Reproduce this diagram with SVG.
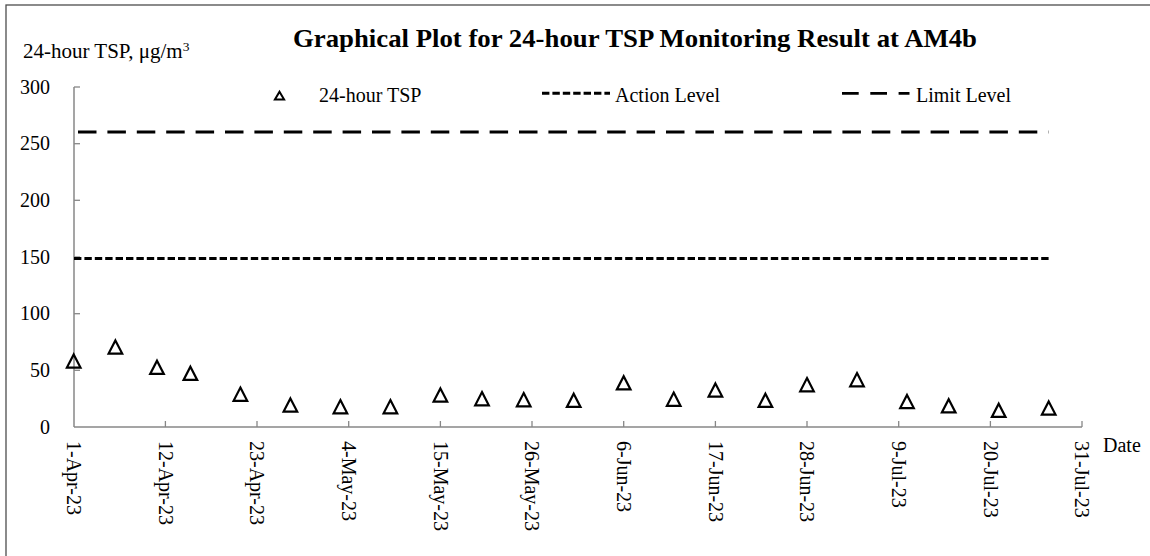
<svg xmlns="http://www.w3.org/2000/svg" xmlns:xlink="http://www.w3.org/1999/xlink" width="1150" height="556" viewBox="0 0 1150 556">
<style>
  text { font-family: "Liberation Serif", "Times New Roman", serif; fill: #000; }
  .lbl { font-size: 20px; }
  .ylbl { font-size: 20px; text-anchor: end; }
  .title { font-size: 25px; font-weight: bold; }
  .axis { stroke: #878787; stroke-width: 1.5; fill: none; }
  .tick { stroke: #878787; stroke-width: 1.3; }
  .mk { fill: none; stroke: #000; stroke-width: 2.2; stroke-linejoin: miter; }
  .limit { stroke: #000; stroke-width: 2.8; stroke-dasharray: 18.5 10.9; fill: none; }
  .action { stroke: #000; stroke-width: 3; stroke-dasharray: 7.4 3; fill: none; }
</style>
<defs>
  <path id="tri" d="M0,-6.6 L6.8,6.6 L-6.8,6.6 Z"/>
  <path id="tris" d="M0,-4.2 L4.6,3.6 L-4.6,3.6 Z"/>
</defs>
<rect x="0" y="0" width="1150" height="556" fill="#fff"/>
<rect id="frame" x="6" y="5" width="1160" height="570" fill="none" stroke="#4d4d4d" stroke-width="1.3"/>

<g id="title">
  <text class="title" x="293" y="47" textLength="684" lengthAdjust="spacingAndGlyphs">Graphical Plot for 24-hour TSP Monitoring Result at AM4b</text>
</g>
<g id="ytitle">
  <text x="23" y="58" style="font-size:21px">24-hour TSP, μg/m<tspan font-size="13.5" dy="-7.5">3</tspan></text>
</g>

<g id="axes">
  <line class="axis" x1="74" y1="87" x2="74" y2="427"/>
  <line class="axis" x1="74" y1="427" x2="1082" y2="427"/>
  <g id="yticks">
    <line class="tick" x1="74" y1="87" x2="80" y2="87"/>
    <line class="tick" x1="74" y1="143.7" x2="80" y2="143.7"/>
    <line class="tick" x1="74" y1="200.3" x2="80" y2="200.3"/>
    <line class="tick" x1="74" y1="257" x2="80" y2="257"/>
    <line class="tick" x1="74" y1="313.7" x2="80" y2="313.7"/>
    <line class="tick" x1="74" y1="370.3" x2="80" y2="370.3"/>
  </g>
  <g id="xticks">
    <line class="tick" x1="165.4" y1="427" x2="165.4" y2="421"/>
    <line class="tick" x1="257" y1="427" x2="257" y2="421"/>
    <line class="tick" x1="348.7" y1="427" x2="348.7" y2="421"/>
    <line class="tick" x1="440.4" y1="427" x2="440.4" y2="421"/>
    <line class="tick" x1="532" y1="427" x2="532" y2="421"/>
    <line class="tick" x1="623.7" y1="427" x2="623.7" y2="421"/>
    <line class="tick" x1="715.4" y1="427" x2="715.4" y2="421"/>
    <line class="tick" x1="807" y1="427" x2="807" y2="421"/>
    <line class="tick" x1="898.7" y1="427" x2="898.7" y2="421"/>
    <line class="tick" x1="990.4" y1="427" x2="990.4" y2="421"/>
    <line class="tick" x1="1082" y1="427" x2="1082" y2="421"/>
  </g>
  <g id="ylabels">
    <text class="ylbl" x="50" y="93.5">300</text>
    <text class="ylbl" x="50" y="150.2">250</text>
    <text class="ylbl" x="50" y="206.8">200</text>
    <text class="ylbl" x="50" y="263.5">150</text>
    <text class="ylbl" x="50" y="320.2">100</text>
    <text class="ylbl" x="50" y="376.8">50</text>
    <text class="ylbl" x="50" y="433.5">0</text>
  </g>
  <g id="xlabels" class="lbl">
    <text transform="translate(73.7,441) rotate(90)" dy="0.34em">1-Apr-23</text>
    <text transform="translate(165.4,441) rotate(90)" dy="0.34em">12-Apr-23</text>
    <text transform="translate(257,441) rotate(90)" dy="0.34em">23-Apr-23</text>
    <text transform="translate(348.7,441) rotate(90)" dy="0.34em">4-May-23</text>
    <text transform="translate(440.4,441) rotate(90)" dy="0.34em">15-May-23</text>
    <text transform="translate(532,441) rotate(90)" dy="0.34em">26-May-23</text>
    <text transform="translate(623.7,441) rotate(90)" dy="0.34em">6-Jun-23</text>
    <text transform="translate(715.4,441) rotate(90)" dy="0.34em">17-Jun-23</text>
    <text transform="translate(807,441) rotate(90)" dy="0.34em">28-Jun-23</text>
    <text transform="translate(898.7,441) rotate(90)" dy="0.34em">9-Jul-23</text>
    <text transform="translate(990.4,441) rotate(90)" dy="0.34em">20-Jul-23</text>
    <text transform="translate(1082,441) rotate(90)" dy="0.34em">31-Jul-23</text>
  </g>
  <text class="lbl" x="1103" y="452">Date</text>
</g>

<g id="levels">
  <line id="limit-line" class="limit" x1="78" y1="132" x2="1048.5" y2="132"/>
  <line id="action-line" class="action" x1="74" y1="258.5" x2="1049" y2="258.5"/>
</g>

<g id="series">
  <use xlink:href="#tri" class="mk" x="73.7" y="361"/>
  <use xlink:href="#tri" class="mk" x="115.4" y="347"/>
  <use xlink:href="#tri" class="mk" x="157" y="367.3"/>
  <use xlink:href="#tri" class="mk" x="190.4" y="373.3"/>
  <use xlink:href="#tri" class="mk" x="240.4" y="394.2"/>
  <use xlink:href="#tri" class="mk" x="290.4" y="405"/>
  <use xlink:href="#tri" class="mk" x="340.4" y="406.7"/>
  <use xlink:href="#tri" class="mk" x="390.4" y="406.7"/>
  <use xlink:href="#tri" class="mk" x="440.4" y="395"/>
  <use xlink:href="#tri" class="mk" x="482" y="398.7"/>
  <use xlink:href="#tri" class="mk" x="523.7" y="399.7"/>
  <use xlink:href="#tri" class="mk" x="573.7" y="400.3"/>
  <use xlink:href="#tri" class="mk" x="623.7" y="382.8"/>
  <use xlink:href="#tri" class="mk" x="673.7" y="399.2"/>
  <use xlink:href="#tri" class="mk" x="715.4" y="390"/>
  <use xlink:href="#tri" class="mk" x="765.4" y="400.3"/>
  <use xlink:href="#tri" class="mk" x="807" y="384.7"/>
  <use xlink:href="#tri" class="mk" x="857" y="379.7"/>
  <use xlink:href="#tri" class="mk" x="907" y="401.5"/>
  <use xlink:href="#tri" class="mk" x="948.7" y="405.8"/>
  <use xlink:href="#tri" class="mk" x="998.7" y="410.3"/>
  <use xlink:href="#tri" class="mk" x="1048.7" y="408"/>
</g>

<g id="legend">
  <g id="legend-tsp">
    <use xlink:href="#tris" class="mk" x="279.5" y="96" style="stroke-width:2"/>
    <text class="lbl" x="319" y="102">24-hour TSP</text>
  </g>
  <g id="legend-action">
    <line class="action" x1="542" y1="93.3" x2="610" y2="93.3"/>
    <text class="lbl" x="615" y="102">Action Level</text>
  </g>
  <g id="legend-limit">
    <line class="limit" x1="842" y1="93.3" x2="909.5" y2="93.3" style="stroke-dasharray:16.7 11.6"/>
    <text class="lbl" x="916" y="102">Limit Level</text>
  </g>
</g>
</svg>
